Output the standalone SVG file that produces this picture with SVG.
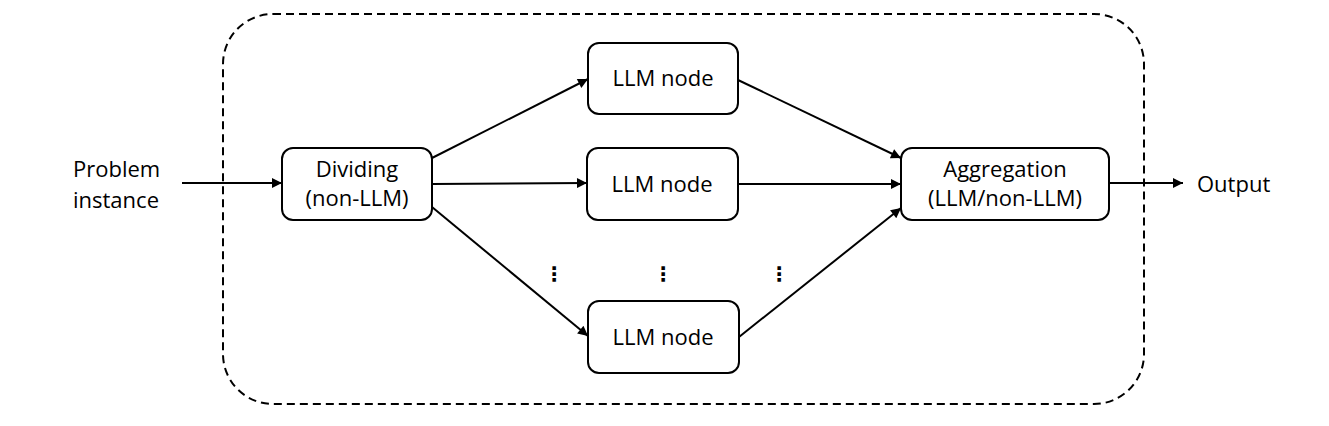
<svg xmlns="http://www.w3.org/2000/svg" width="1329" height="426" viewBox="0 0 1329 426">
<style>
.box{fill:#fff;stroke:#000;stroke-width:2}
.t{font-family:"Open Sans","Noto Sans",sans-serif;font-size:22px;fill:#000;text-anchor:middle}
.tl{font-family:"Open Sans","Noto Sans",sans-serif;font-size:22px;fill:#000}
.c{stroke:#000;stroke-width:2;fill:none;marker-end:url(#ah)}
.dots{font-family:"DejaVu Sans",sans-serif;font-size:20px;font-weight:bold;fill:#000;text-anchor:middle}
</style>
<defs>
<marker id="ah" viewBox="0 0 10 10" refX="10" refY="5" markerWidth="6" markerHeight="5" markerUnits="strokeWidth" orient="auto">
<path d="M0,0 L10,5 L0,10 z" fill="#000"/>
</marker>
</defs>
<g id="container">
<rect x="223" y="14" width="921" height="390" rx="50" ry="50" fill="none" stroke="#000" stroke-width="2" stroke-dasharray="8,5"/>
</g>
<g id="connectors">
<line class="c" x1="182" y1="183" x2="282" y2="183"/>
<line class="c" x1="432" y1="158" x2="588" y2="79"/>
<line class="c" x1="432" y1="184" x2="587" y2="183"/>
<line class="c" x1="432" y1="207" x2="588" y2="336"/>
<line class="c" x1="738" y1="80" x2="901" y2="158"/>
<line class="c" x1="738" y1="184" x2="901" y2="184"/>
<line class="c" x1="739" y1="337" x2="901" y2="208"/>
<line class="c" x1="1109" y1="183" x2="1183" y2="183"/>
</g>
<g id="input"><text class="tl" x="73" y="177">Problem</text><text class="tl" x="73" y="208">instance</text></g>
<g id="dividing">
<rect class="box" x="282" y="148" width="150" height="72" rx="11"/>
<text class="t" x="357" y="177">Dividing</text>
<text class="t" x="357" y="206">(non-LLM)</text>
</g>
<g id="llm1">
<rect class="box" x="588" y="43" width="150" height="71" rx="11"/>
<text class="t" x="663" y="86">LLM node</text>
</g>
<g id="llm2">
<rect class="box" x="587" y="148" width="151" height="72" rx="11"/>
<text class="t" x="662" y="192">LLM node</text>
</g>
<g id="llm3">
<rect class="box" x="588" y="301" width="151" height="72" rx="11"/>
<text class="t" x="663" y="345">LLM node</text>
</g>
<g id="aggregation">
<rect class="box" x="901" y="148" width="208" height="72" rx="11"/>
<text class="t" x="1005" y="177">Aggregation</text>
<text class="t" x="1005" y="206">(LLM/non-LLM)</text>
</g>
<g id="output"><text class="tl" x="1197" y="192">Output</text></g>
<g id="ellipsis">
<text class="dots" x="554" y="281">⋮</text>
<text class="dots" x="663" y="281">⋮</text>
<text class="dots" x="779" y="281">⋮</text>
</g>
</svg>
